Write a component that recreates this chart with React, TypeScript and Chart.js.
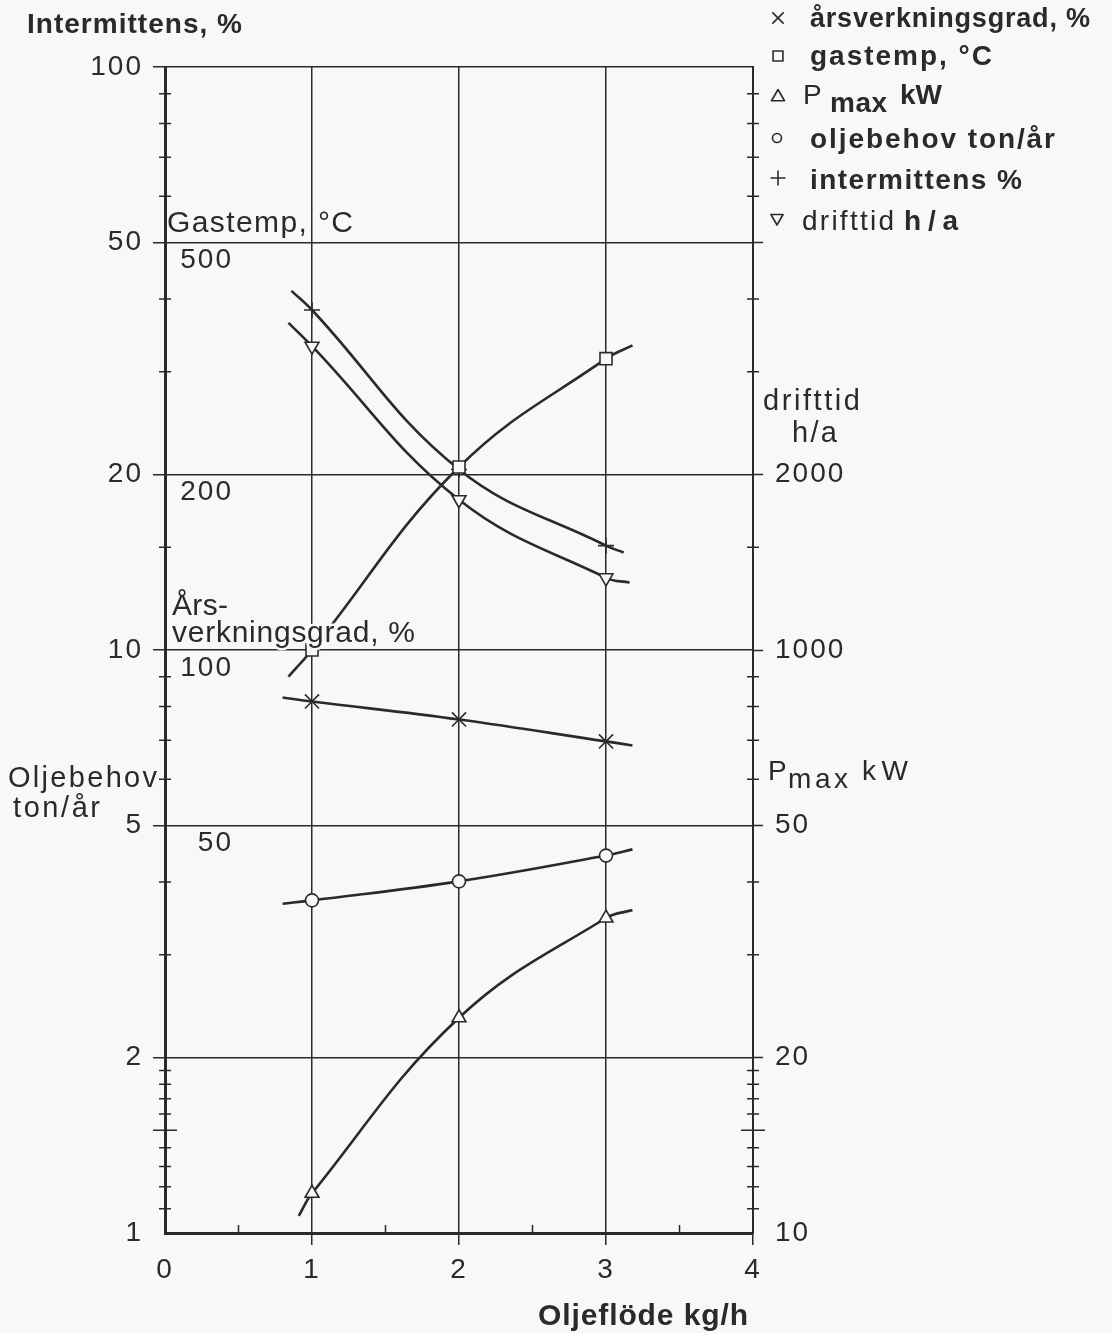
import React, { useEffect, useRef } from 'react';
import { Chart, registerables } from 'chart.js';
import { drawPoint } from 'chart.js/helpers';

Chart.register(...registerables);

// ---------------- data ----------------
const xTickValues = [0, 1, 2, 3, 4];
const xMinorTicks = [0.5, 1.5, 2.5, 3.5];
const leftTickValues = [1, 2, 5, 10, 20, 50, 100];
const yMinorTicks = [1.1, 1.2, 1.3, 1.4, 1.5, 1.6, 1.7, 1.8, 1.9, 3, 4, 6, 7, 8, 9, 15, 30, 40, 60, 70, 80, 90];
const rightTickValues = [1, 2, 5, 10, 20, 50];
const rightTickLabels = ['10', '20', '50', '1000', '2000', ''];
const gastempTickValues = [5, 10, 20, 50];
const gastempTickLabels = ['50', '100', '200', '500'];

// x = oljeflöde kg/h; values in left-axis units; first/last entries are the drawn curve ends
const intermittensX = [0.86, 1, 2, 3, 3.12];
const intermittens = [41.3, 38.3, 20.4, 15.1, 14.7];
const drifttidX = [0.84, 1, 2, 3, 3.16];
const drifttid = [36.4, 33.2, 18.1, 13.3, 13.05];
const gastempX = [0.84, 1, 2, 3, 3.18];
const gastemp = [9.0, 10.0, 20.6, 31.6, 33.3];
const arsverkX = [0.8, 1, 2, 3, 3.18];
const arsverk = [8.29, 8.16, 7.6, 6.97, 6.86];
const oljebehovX = [0.8, 1, 2, 3, 3.18];
const oljebehov = [3.67, 3.72, 4.01, 4.44, 4.55];
const pmaxX = [0.91, 1, 2, 3, 3.18];
const pmax = [1.07, 1.17, 2.34, 3.47, 3.58];

const INK = '#2a2a2a';
const BG = '#f8f8f8';
const FONT = '"Liberation Sans", Arial, Helvetica, sans-serif';

type LabelOpts = {
  size: number;
  weight?: string;
  width?: number;
  spacing?: number;
  align?: 'left' | 'right' | 'center';
  baseline?: CanvasTextBaseline;
  halo?: number;
};

function drawLabel(ctx: any, text: string, x: number, y: number, o: LabelOpts) {
  ctx.font = `${o.weight || 'normal'} ${o.size}px ${FONT}`;
  ctx.letterSpacing = '0px';
  const w0 = ctx.measureText(text).width;
  const n = [...text].length;
  let sp = o.spacing ?? 0;
  if (o.width != null && n > 1) sp = (o.width - w0) / (n - 1);
  const vis = w0 + sp * (n - 1);
  let lx = x;
  if (o.align === 'right') lx = x - vis;
  else if (o.align === 'center') lx = x - vis / 2;
  ctx.letterSpacing = `${sp}px`;
  ctx.textAlign = 'left';
  ctx.textBaseline = o.baseline || 'alphabetic';
  if (o.halo) {
    ctx.strokeStyle = BG;
    ctx.lineWidth = o.halo;
    ctx.lineJoin = 'round';
    ctx.strokeText(text, lx, y);
  }
  ctx.fillStyle = INK;
  ctx.fillText(text, lx, y);
}

function symbol(ctx: any, style: string, r: number, x: number, y: number, rotation = 0) {
  ctx.save();
  ctx.strokeStyle = INK;
  ctx.fillStyle = BG;
  ctx.lineWidth = 1.6;
  drawPoint(ctx, { pointStyle: style as any, rotation, radius: r, borderWidth: 1.6 } as any, x, y);
  ctx.restore();
}

const overlay = {
  id: 'overlay',
  beforeDraw(chart: any) {
    const c = chart.ctx;
    c.save();
    c.fillStyle = BG;
    c.fillRect(0, 0, chart.width, chart.height);
    c.restore();
    c.letterSpacing = '2px';
  },
  afterDraw(chart: any) {
    const ctx = chart.ctx;
    const { left, right, bottom } = chart.chartArea;
    const ys = chart.scales.y;
    const xs = chart.scales.x;
    ctx.save();
    // minor ticks
    ctx.strokeStyle = INK;
    ctx.lineWidth = 1.5;
    ctx.beginPath();
    for (const v of yMinorTicks) {
      const py = ys.getPixelForValue(v);
      const len = v === 1.5 ? 12 : 6;
      ctx.moveTo(left - len, py);
      ctx.lineTo(left + len, py);
      ctx.moveTo(right - len, py);
      ctx.lineTo(right + len, py);
    }
    for (const v of xMinorTicks) {
      const px = xs.getPixelForValue(v);
      ctx.moveTo(px, bottom);
      ctx.lineTo(px, bottom - 8);
    }
    ctx.stroke();

    // gastemp scale numbers inside the plot
    gastempTickValues.forEach((v, i) => {
      drawLabel(ctx, gastempTickLabels[i], 231, ys.getPixelForValue(v) + 18, {
        size: 28, spacing: 2, align: 'right', baseline: 'middle',
      });
    });

    // axis / curve labels
    drawLabel(ctx, 'Intermittens, %', 27, 33, { size: 28, weight: 'bold', width: 215 });
    drawLabel(ctx, 'Gastemp, °C', 167, 232, { size: 30, width: 186 });
    drawLabel(ctx, 'Års-', 172, 615, { size: 30, width: 56 });
    drawLabel(ctx, 'verkningsgrad, %', 172, 642, { size: 30, width: 243, halo: 5 });
    drawLabel(ctx, 'Oljebehov', 8, 787, { size: 29, width: 149 });
    drawLabel(ctx, 'ton/år', 13, 817, { size: 29, width: 87 });
    drawLabel(ctx, 'drifttid', 763, 410, { size: 29, width: 97 });
    drawLabel(ctx, 'h/a', 792, 442, { size: 29, width: 45 });
    drawLabel(ctx, 'P', 768, 780, { size: 28 });
    drawLabel(ctx, 'max', 788, 788, { size: 28, width: 60 });
    drawLabel(ctx, 'kW', 862, 780, { size: 28, width: 46 });
    drawLabel(ctx, 'Oljeflöde kg/h', 538, 1325, { size: 30, weight: 'bold', width: 210 });

    // legend
    symbol(ctx, 'crossRot', 8, 778, 18);
    drawLabel(ctx, 'årsverkningsgrad, %', 810, 27, { size: 27, weight: 'bold', width: 280 });
    symbol(ctx, 'rect', 7, 778, 56);
    drawLabel(ctx, 'gastemp, °C', 810, 65, { size: 28, weight: 'bold', width: 182 });
    symbol(ctx, 'triangle', 7.5, 778, 97);
    drawLabel(ctx, 'P', 803, 104, { size: 28 });
    drawLabel(ctx, 'max', 830, 112, { size: 28, weight: 'bold', width: 57 });
    drawLabel(ctx, 'kW', 900, 104, { size: 28, weight: 'bold' });
    symbol(ctx, 'circle', 4.5, 777, 138);
    drawLabel(ctx, 'oljebehov ton/år', 810, 148, { size: 28, weight: 'bold', width: 245 });
    symbol(ctx, 'cross', 7.5, 778, 178);
    drawLabel(ctx, 'intermittens %', 810, 189, { size: 28, weight: 'bold', width: 212 });
    symbol(ctx, 'triangle', 7, 777, 218, 180);
    drawLabel(ctx, 'drifttid', 802, 230, { size: 28, width: 92 });
    drawLabel(ctx, 'h/a', 904, 230, { size: 28, weight: 'bold', width: 54 });
    ctx.restore();
  },
};

function series(label: string, xs: number[], vals: number[], style: string, r: number, rotation = 0) {
  return {
    label,
    data: xs.map((x, i) => ({ x, y: vals[i] })),
    borderColor: INK,
    borderWidth: 2.6,
    tension: 0.4,
    pointStyle: style,
    pointRotation: rotation,
    pointRadius: (c: any) => (c.raw && Number.isInteger(c.raw.x) ? r : 0),
    pointHoverRadius: 0,
    pointBackgroundColor: BG,
    pointBorderColor: INK,
    pointBorderWidth: 1.6,
    xAxisID: 'x',
    yAxisID: 'y',
    clip: false,
  };
}

export default function App() {
  const ref = useRef<HTMLCanvasElement>(null);
  useEffect(() => {
    if (!ref.current) return;
    const transparent = 'rgba(0,0,0,0)';
    const tickFont = { family: FONT, size: 28 };
    const chart = new Chart(ref.current, {
      type: 'line',
      data: {
        datasets: [
          series('årsverkningsgrad, %', arsverkX, arsverk, 'crossRot', 10),
          series('gastemp, °C', gastempX, gastemp, 'rect', 8.5),
          series('P max kW', pmaxX, pmax, 'triangle', 8),
          series('oljebehov ton/år', oljebehovX, oljebehov, 'circle', 6.5),
          series('intermittens %', intermittensX, intermittens, 'cross', 8),
          series('drifttid h/a', drifttidX, drifttid, 'triangle', 8, 180),
        ] as any,
      },
      options: {
        responsive: false,
        animation: false,
        devicePixelRatio: 1,
        events: [],
        layout: { padding: { top: 67, left: 0, right: 0, bottom: 0 } },
        plugins: { legend: { display: false }, tooltip: { enabled: false } },
        scales: {
          x: {
            type: 'linear',
            min: 0,
            max: 4,
            position: 'bottom',
            afterBuildTicks: (s: any) => { s.ticks = xTickValues.map((v) => ({ value: v })); },
            afterFit: (s: any) => { s.height = 100; },
            grid: {
              color: (c: any) => (c.tick && (c.tick.value === 0 || c.tick.value === 4) ? transparent : INK),
              lineWidth: 1.5,
              drawTicks: true,
              tickLength: 12,
              tickWidth: 1.5,
              tickColor: (c: any) => (c.tick && c.tick.value === 0 ? transparent : INK),
            },
            border: { display: true, color: INK, width: 3 },
            ticks: { color: INK, font: tickFont, padding: 8, maxRotation: 0, autoSkip: false },
          },
          y: {
            type: 'logarithmic',
            min: 1,
            max: 100,
            position: 'left',
            afterBuildTicks: (s: any) => { s.ticks = leftTickValues.map((v) => ({ value: v })); },
            afterFit: (s: any) => { s.width = 165; },
            grid: {
              color: (c: any) => (c.tick && c.tick.value === 1 ? transparent : INK),
              lineWidth: 1.5,
              tickLength: 12,
              tickWidth: 1.5,
              tickColor: (c: any) => (c.tick && c.tick.value === 1 ? transparent : INK),
            },
            border: { display: true, color: INK, width: 3 },
            ticks: { color: INK, font: tickFont, padding: 10, autoSkip: false, callback: (v: any) => String(v) },
          },
          y2: {
            type: 'logarithmic',
            min: 1,
            max: 100,
            position: 'right',
            afterBuildTicks: (s: any) => { s.ticks = rightTickValues.map((v) => ({ value: v })); },
            afterFit: (s: any) => { s.width = 359; },
            grid: {
              drawOnChartArea: false,
              tickLength: 10,
              tickWidth: 1.5,
              tickColor: (c: any) => (c.tick && c.tick.value === 1 ? transparent : INK),
            },
            border: { display: true, color: INK, width: 2 },
            ticks: {
              color: INK,
              font: tickFont,
              padding: 12,
              autoSkip: false,
              callback: (v: any) => {
                const i = rightTickValues.indexOf(Number(v));
                return i >= 0 ? rightTickLabels[i] : '';
              },
            },
          },
        },
      } as any,
      plugins: [overlay],
    });
    return () => chart.destroy();
  }, []);
  return (
    <div style={{ position: 'absolute', left: 0, top: 0, width: 1112, height: 1333 }}>
      <canvas ref={ref} width={1112} height={1333} style={{ display: 'block' }} />
    </div>
  );
}
